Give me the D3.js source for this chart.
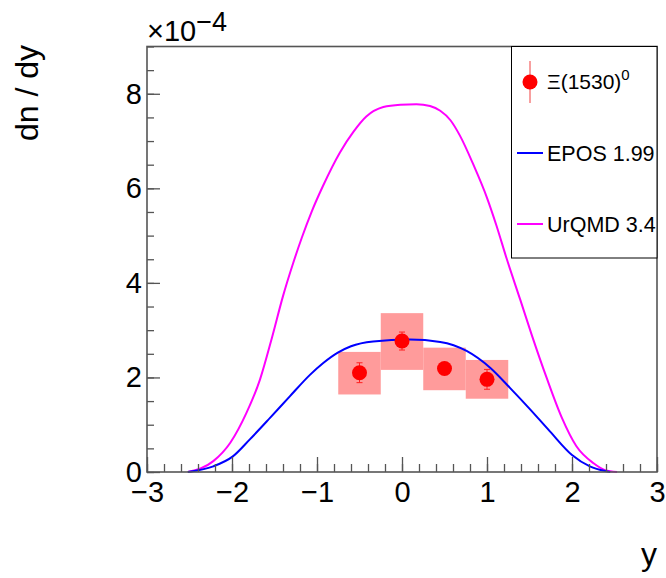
<!DOCTYPE html>
<html>
<head>
<meta charset="utf-8">
<script src="https://cdn.jsdelivr.net/npm/d3@7"></script>
<style>
  body { margin: 0; background: #fff; }
  svg text { font-family: "Liberation Sans", Arial, Helvetica, sans-serif; }
</style>
</head>
<body>
<div id="chart"></div>
<script>
// measured points, y in units of 1e-4
const dataY = [-0.5, 0, 0.5, 1];
const dataV = [2.10, 2.77, 2.19, 1.96];
const statErr = [0.21, 0.19, 0.10, 0.21];
const sysHi = [2.54, 3.36, 2.63, 2.37];
const sysLo = [1.64, 2.16, 1.73, 1.55];
const sysHalfWidth = 0.25;

// model curves (y, dn/dy x1e-4)
const eposY = [-2.52, -2.22, -1.99, -1.79, -1.55, -1.32, -1.08, -0.93, -0.75, -0.60, -0.34, 0.09, 0.45, 0.76, 1.04, 1.27, 1.51, 1.74, 2.0, 2.21, 2.39, 2.45];
const eposV = [0, 0.12, 0.33, 0.69, 1.15, 1.60, 2.06, 2.30, 2.53, 2.66, 2.76, 2.80, 2.75, 2.56, 2.20, 1.78, 1.32, 0.86, 0.36, 0.12, 0.02, 0];
const urqmdY = [-2.52, -2.22, -2.02, -1.83, -1.67, -1.53, -1.40, -1.28, -1.18, -1.06, -0.93, -0.73, -0.57, -0.42, -0.22, -0.02, 0.17, 0.33, 0.45, 0.57, 0.68, 0.84, 1.0, 1.11, 1.23, 1.39, 1.53, 1.70, 1.88, 2.05, 2.25, 2.39, 2.53];
const urqmdV = [0, 0.23, 0.62, 1.25, 1.96, 2.84, 3.72, 4.42, 4.95, 5.52, 6.05, 6.76, 7.20, 7.52, 7.72, 7.77, 7.78, 7.74, 7.64, 7.44, 7.12, 6.50, 5.80, 5.22, 4.52, 3.65, 2.88, 2.00, 1.15, 0.55, 0.19, 0.04, 0];

const xMajor = [-3, -2, -1, 0, 1, 2, 3];
const yMajor = [0, 2, 4, 6, 8];
const legendLabels = ["EPOS 1.99", "UrQMD 3.4"];

const W = 666, H = 578;
const margin = { top: 46.5, right: 9, bottom: 106, left: 147 };
const width = W - margin.left - margin.right;
const height = H - margin.top - margin.bottom;

const svg = d3.select("#chart").append("svg")
  .attr("width", W)
  .attr("height", H);

const g = svg.append("g")
  .attr("transform", `translate(${margin.left}, ${margin.top})`);

const x = d3.scaleLinear().domain([-3, 3]).range([0, width]);
const y = d3.scaleLinear().domain([0, 9]).range([height, 0]);

// systematic boxes
g.selectAll("rect.sys")
  .data(dataY)
  .enter()
  .append("rect")
  .attr("class", "sys")
  .attr("x", d => x(d - sysHalfWidth))
  .attr("width", d => x(d + sysHalfWidth) - x(d - sysHalfWidth))
  .attr("y", (d, i) => y(sysHi[i]))
  .attr("height", (d, i) => y(sysLo[i]) - y(sysHi[i]))
  .attr("fill", "#ff9b9b");

// curves
const line = d3.line()
  .x(d => x(d[0]))
  .y(d => y(d[1]))
  .curve(d3.curveMonotoneX);

g.append("path")
  .datum(urqmdY.map((d, i) => [d, urqmdV[i]]))
  .attr("d", line)
  .attr("fill", "none")
  .attr("stroke", "#ff00ff")
  .attr("stroke-width", 2);

g.append("path")
  .datum(eposY.map((d, i) => [d, eposV[i]]))
  .attr("d", line)
  .attr("fill", "none")
  .attr("stroke", "#0000ff")
  .attr("stroke-width", 2);

// stat error bars
const bars = g.selectAll("g.err")
  .data(dataY)
  .enter()
  .append("g")
  .attr("class", "err")
  .attr("stroke", "#ff2020")
  .attr("stroke-width", 1);
bars.append("line")
  .attr("x1", d => x(d)).attr("x2", d => x(d))
  .attr("y1", (d, i) => y(dataV[i] + statErr[i]))
  .attr("y2", (d, i) => y(dataV[i] - statErr[i]));
bars.append("line")
  .attr("x1", d => x(d) - 3).attr("x2", d => x(d) + 3)
  .attr("y1", (d, i) => y(dataV[i] + statErr[i]))
  .attr("y2", (d, i) => y(dataV[i] + statErr[i]));
bars.append("line")
  .attr("x1", d => x(d) - 3).attr("x2", d => x(d) + 3)
  .attr("y1", (d, i) => y(dataV[i] - statErr[i]))
  .attr("y2", (d, i) => y(dataV[i] - statErr[i]));

g.selectAll("circle.pt")
  .data(dataY)
  .enter()
  .append("circle")
  .attr("class", "pt")
  .attr("cx", d => x(d))
  .attr("cy", (d, i) => y(dataV[i]))
  .attr("r", 7.5)
  .attr("fill", "#ff0000");

// axes (ROOT style, ticks inward)
const axisColor = "#555";
function styleAxis(sel) {
  sel.select(".domain").remove();
  sel.selectAll("line").attr("stroke", axisColor).attr("stroke-width", 1.3);
  sel.selectAll("text").attr("fill", "#000").attr("font-size", "29px")
    .attr("font-family", "'Liberation Sans', Arial, sans-serif");
}

const xMinor = d3.range(-3, 3.001, 0.2).map(d => +d.toFixed(2));
g.append("g")
  .attr("transform", `translate(0, ${height})`)
  .call(d3.axisBottom(x).tickValues(xMinor).tickSize(-8).tickFormat(""))
  .call(styleAxis);
g.append("g")
  .attr("transform", `translate(0, ${height})`)
  .call(d3.axisBottom(x).tickValues(xMajor).tickSize(-15).tickPadding(9)
    .tickFormat(d => d < 0 ? "\u2212" + Math.abs(d) : d))
  .call(styleAxis);

const yMinor = d3.range(0, 9.001, 0.5);
g.append("g")
  .call(d3.axisLeft(y).tickValues(yMinor).tickSize(-7).tickFormat(""))
  .call(styleAxis);
g.append("g")
  .call(d3.axisLeft(y).tickValues(yMajor).tickSize(-13).tickPadding(5))
  .call(styleAxis);

// frame
g.append("rect")
  .attr("width", width)
  .attr("height", height)
  .attr("fill", "none")
  .attr("stroke", axisColor)
  .attr("stroke-width", 1.6);

// exponent label
const expo = svg.append("text")
  .attr("x", 147)
  .attr("y", 41)
  .attr("font-size", "29px");
expo.append("tspan").text("\u00d710");
expo.append("tspan").attr("dy", -10).attr("font-size", "27px").text("\u22124");

// axis titles
svg.append("text")
  .attr("transform", "translate(38, 45) rotate(-90)")
  .attr("text-anchor", "end")
  .attr("font-size", "32px")
  .text("dn / dy");

svg.append("text")
  .attr("x", 657)
  .attr("y", 565)
  .attr("text-anchor", "end")
  .attr("font-size", "32px")
  .text("y");

// legend
const leg = svg.append("g");
leg.append("rect")
  .attr("x", 511.5).attr("y", 46.5)
  .attr("width", 145.5).attr("height", 211.5)
  .attr("fill", "#fff")
  .attr("stroke", "#000")
  .attr("stroke-width", 1);

leg.append("line")
  .attr("x1", 530).attr("x2", 530)
  .attr("y1", 61).attr("y2", 103)
  .attr("stroke", "#f04040").attr("stroke-width", 1);
leg.append("circle")
  .attr("cx", 530).attr("cy", 82).attr("r", 7.5).attr("fill", "#ff0000");
const xiText = leg.append("text")
  .attr("x", 547).attr("y", 89)
  .attr("font-size", "21px");
xiText.append("tspan").text("\u039e(1530)");
xiText.append("tspan").attr("dy", -9).attr("font-size", "15px").text("0");

const legColors = ["#0000ff", "#ff00ff"];
const legY = [153, 224];
legendLabels.forEach((lab, i) => {
  leg.append("line")
    .attr("x1", 517).attr("x2", 543)
    .attr("y1", legY[i]).attr("y2", legY[i])
    .attr("stroke", legColors[i]).attr("stroke-width", 2);
  leg.append("text")
    .attr("x", 547).attr("y", legY[i] + 7.5)
    .attr("font-size", "21.5px")
    .text(lab);
});
</script>
</body>
</html>
